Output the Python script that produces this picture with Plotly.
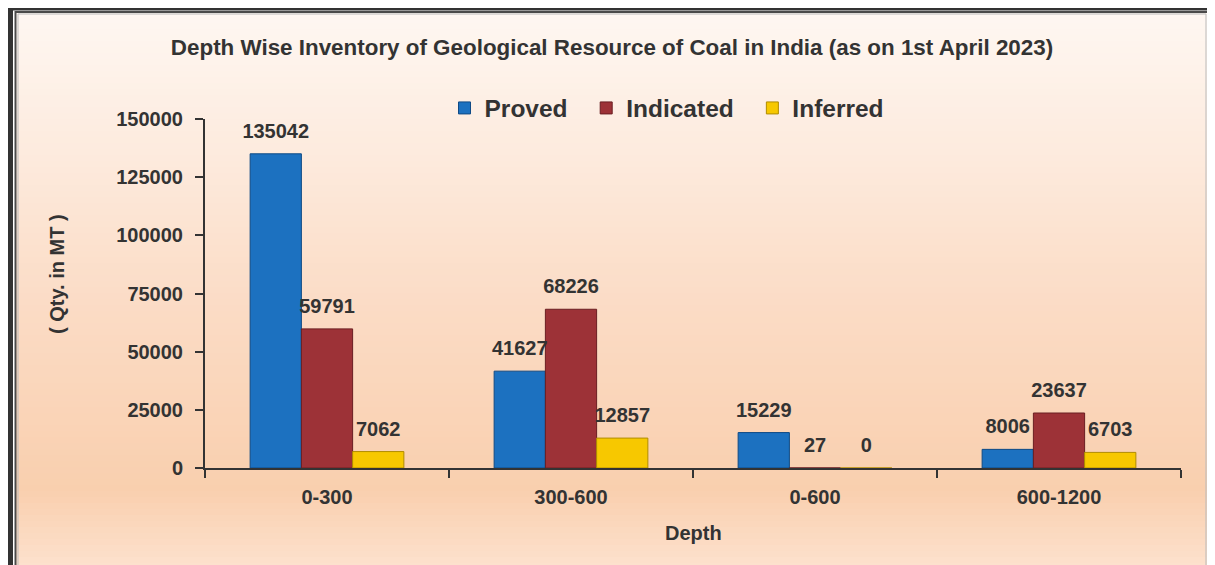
import plotly.graph_objects as go

# data
depths = ['0-300', '300-600', '0-600', '600-1200']
proved = [135042, 41627, 15229, 8006]
indicated = [59791, 68226, 27, 23637]
inferred = [7062, 12857, 0, 6703]

# colours
bl = '#1c71c0'
rd = '#9d3237'
yl = '#f7c800'
txt = '#333333'
FONT = 'Liberation Sans, Arial'

# page body adds an 8px margin, so the figure is 8px smaller
OFF = 8
W, H = 1215, 565
L, R, T, B = 205, 34, 119, 97
pw, ph = W - L - R, H - T - B


# pixel (screen) -> paper helpers (for the frame / background only)
px = lambda x: (x - L) / pw
py = lambda y: (H - B - y) / ph


def mix(c1, c2, f):
    a = [int(c1[i:i+2], 16) for i in (1, 3, 5)]
    b = [int(c2[i:i+2], 16) for i in (1, 3, 5)]
    return '#%02x%02x%02x' % tuple(round(a[k] + (b[k]-a[k])*f) for k in range(3))


# background gradient stops (pixel row, colour)
stops = [(11, '#fef7f2'), (150, '#fdebde'), (300, '#fbdcc6'),
         (490, '#f9cfae'), (565, '#fde1cd')]

shapes = []
y0 = 11
while y0 < H:
    y1 = min(y0 + 6, H)
    ym = (y0 + y1) / 2
    for (sa, ca), (sb, cb) in zip(stops[:-1], stops[1:]):
        if sa <= ym <= sb:
            col = mix(ca, cb, (ym - sa) / (sb - sa))
            break
    shapes.append(dict(type='rect', xref='paper', yref='paper', layer='below',
                       x0=px(15), x1=px(1209), y0=py(y1), y1=py(y0),
                       fillcolor=col, line_width=0))
    y0 = y1

# top table strip and frame lines
shapes += [
    dict(type='rect', xref='paper', yref='paper', layer='below',
         x0=px(13), x1=px(1215), y0=py(7), y1=py(0),
         fillcolor='#fde8d6', line_width=0),
    dict(type='rect', xref='paper', yref='paper', layer='below',
         x0=px(8), x1=px(1215), y0=py(10.5), y1=py(7),
         fillcolor='#333333', line_width=0),
    dict(type='rect', xref='paper', yref='paper', layer='below',
         x0=px(8), x1=px(13), y0=py(H), y1=py(0),
         fillcolor='#333333', line_width=0),
    dict(type='rect', xref='paper', yref='paper', layer='below',
         x0=px(15.5), x1=px(1208.5), y0=py(H + 5), y1=py(12),
         fillcolor='rgba(0,0,0,0)', line=dict(color='#4a4a4a', width=2)),
    dict(type='rect', xref='paper', yref='paper', layer='below',
         x0=px(18), x1=px(1206), y0=py(H + 5), y1=py(14),
         fillcolor='rgba(0,0,0,0)', line=dict(color='#bbbbbb', width=1)),
]
for xv in [486, 668, 851, 1034]:
    shapes.append(dict(type='line', xref='paper', yref='paper', layer='below',
                       x0=px(xv), x1=px(xv), y0=py(7), y1=py(0),
                       line=dict(color='#333333', width=2)))


bar = lambda name, vals, color, edge, grp: go.Bar(
    name=name, x=depths, y=vals, offsetgroup=grp,
    marker=dict(color=color, line=dict(color=edge, width=1)))

# value labels: invisible markers sitting on top of each bar
label = lambda vals, grp: go.Scatter(
    x=depths, y=vals, offsetgroup=grp, mode='markers+text',
    text=vals, textposition='top center', showlegend=False,
    hoverinfo='skip', cliponaxis=False,
    marker=dict(size=16, opacity=0),
    textfont=dict(family=FONT, size=20, color=txt, weight='bold'))

fig = go.Figure(data=[bar('Proved\u00a0\u00a0', proved, bl, '#0f4a85', 'p'),
                      bar('Indicated\u00a0\u00a0', indicated, rd, '#6a1e22', 'i'),
                      bar('Inferred', inferred, yl, '#b08c00', 'f'),
                      label(proved, 'p'), label(indicated, 'i'),
                      label(inferred, 'f')])

fig.update_layout(
    width=W - OFF, height=H - OFF,
    margin=dict(l=L - OFF, r=R, t=T - OFF, b=B),
    paper_bgcolor='white', plot_bgcolor='rgba(0,0,0,0)',
    barmode='group', bargap=0.37, bargroupgap=0,
    scattermode='group', scattergap=0.37,
    font=dict(family=FONT, color=txt),
    title=dict(text='Depth Wise Inventory of Geological Resource of Coal in India (as on 1st April 2023)',
               xref='container', yref='container',
               x=(612 - OFF) / (W - OFF), y=1 - (47 - OFF) / (H - OFF),
               xanchor='center', yanchor='middle',
               font=dict(family=FONT, size=22.4, color=txt, weight='bold')),
    legend=dict(orientation='h', x=px(667), y=py(108), xanchor='center',
                yanchor='middle', bgcolor='rgba(0,0,0,0)',
                font=dict(family=FONT, size=24.5, color=txt, weight='bold')),
    shapes=shapes,
    annotations=[
        dict(text='( Qty. in MT )', xref='paper', yref='paper',
             x=px(57), y=py(274), xanchor='center', yanchor='middle',
             textangle=-90, showarrow=False,
             font=dict(family=FONT, size=20, color=txt, weight='bold')),
        dict(text='Depth', xref='paper', yref='paper',
             x=px(693), y=py(533), xanchor='center', yanchor='middle',
             showarrow=False,
             font=dict(family=FONT, size=20, color=txt, weight='bold')),
    ])

fig.update_yaxes(range=[0, 150000], dtick=25000, tickformat='d',
                 showgrid=False, zeroline=False, showline=True,
                 linecolor=txt, linewidth=2,
                 ticks='outside', ticklen=8, tickwidth=2, tickcolor=txt,
                 ticklabelstandoff=8,
                 tickfont=dict(family=FONT, size=20, color=txt, weight='bold'))
fig.update_xaxes(showgrid=False, showline=True, linecolor=txt, linewidth=2,
                 ticks='outside', ticklen=8, tickwidth=2, tickcolor=txt,
                 tickson='boundaries', ticklabelstandoff=10,
                 tickfont=dict(family=FONT, size=20, color=txt, weight='bold'))

fig.write_html('out.html')
